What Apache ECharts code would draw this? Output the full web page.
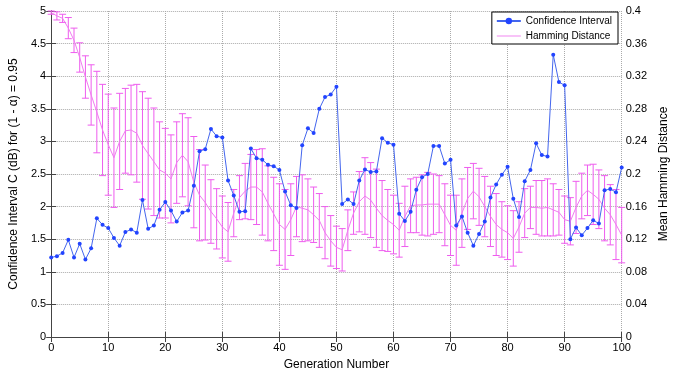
<!DOCTYPE html>
<html><head><meta charset="utf-8">
<script src="https://cdn.jsdelivr.net/npm/echarts@6/dist/echarts.min.js"></script>
<style>html,body{margin:0;padding:0;background:#fff}#c{width:678px;height:376px}</style>
</head><body><div id="c"></div>
<script>
// Confidence interval (left axis), one value per generation 0..100
const confidence = [1.22,1.24,1.29,1.49,1.22,1.43,1.19,1.36,1.82,1.72,
1.67,1.52,1.40,1.61,1.65,1.60,2.10,1.66,1.71,1.95,
2.07,1.94,1.77,1.91,1.94,2.32,2.85,2.88,3.19,3.08,
3.06,2.40,2.17,1.92,1.93,2.89,2.74,2.72,2.64,2.62,
2.56,2.23,2.02,1.98,2.94,3.20,3.13,3.50,3.68,3.72,
3.84,2.04,2.11,2.04,2.40,2.57,2.53,2.54,3.05,2.98,
2.95,1.89,1.78,1.92,2.26,2.45,2.50,2.93,2.93,2.66,
2.72,1.71,1.85,1.60,1.40,1.58,1.77,2.14,2.34,2.49,
2.61,2.12,1.84,2.39,2.56,2.97,2.79,2.77,4.33,3.91,
3.86,1.50,1.68,1.56,1.67,1.79,1.74,2.25,2.27,2.22,2.60];
// Mean Hamming distance (right axis)
const hamming = [0.398,0.394,0.391,0.379,0.364,0.343,0.319,0.297,0.276,0.254,
0.236,0.220,0.240,0.253,0.254,0.250,0.235,0.225,0.215,0.205,
0.201,0.194,0.214,0.223,0.215,0.190,0.174,0.165,0.154,0.145,
0.135,0.129,0.152,0.171,0.179,0.184,0.184,0.178,0.164,0.151,
0.138,0.132,0.144,0.160,0.158,0.156,0.150,0.143,0.128,0.118,
0.110,0.107,0.131,0.152,0.166,0.173,0.168,0.158,0.149,0.143,
0.138,0.131,0.148,0.161,0.162,0.162,0.163,0.163,0.163,0.150,
0.137,0.131,0.152,0.170,0.179,0.172,0.160,0.148,0.138,0.132,
0.128,0.121,0.135,0.152,0.159,0.159,0.158,0.159,0.156,0.153,
0.144,0.142,0.159,0.173,0.180,0.175,0.169,0.158,0.150,0.138,0.125];
// Error bar half-widths for the Hamming distance
const hammingErr = [0.002,0.005,0.005,0.013,0.015,0.018,0.026,0.037,0.050,0.056,
0.062,0.061,0.059,0.052,0.055,0.060,0.066,0.068,0.066,0.059,
0.055,0.054,0.050,0.051,0.054,0.056,0.056,0.046,0.039,0.037,
0.038,0.036,0.029,0.027,0.034,0.040,0.046,0.053,0.046,0.045,
0.050,0.049,0.044,0.037,0.041,0.038,0.034,0.033,0.032,0.031,
0.026,0.026,0.025,0.026,0.037,0.047,0.046,0.048,0.043,0.038,
0.036,0.033,0.037,0.033,0.034,0.037,0.039,0.037,0.035,0.038,
0.037,0.043,0.042,0.038,0.034,0.035,0.037,0.037,0.038,0.034,
0.033,0.034,0.031,0.030,0.026,0.033,0.034,0.035,0.032,0.028,
0.029,0.029,0.032,0.028,0.031,0.037,0.036,0.040,0.037,0.043,0.034];

const FONT = "'Liberation Sans', Arial, sans-serif";
const AX = '#444';
const confData = confidence.map((v,i)=>[i,v]);
const hamData = hamming.map((v,i)=>[i,v]);
const errData = hamming.map((v,i)=>[i, v-hammingErr[i], v+hammingErr[i]]);

const chart = echarts.init(document.getElementById('c'), null, {renderer:'canvas'});
const baseAxis = {
  axisLine:{show:true, lineStyle:{color:AX, width:1}},
  axisTick:{show:true, inside:true, length:5, lineStyle:{color:AX}},
  axisLabel:{color:'#000', fontFamily:FONT, fontSize:11},
  nameTextStyle:{color:'#000', fontFamily:FONT, fontSize:12}
};
const grid = {type:'dotted', color:'#aaa', width:1};
chart.setOption({
  animation:false,
  backgroundColor:'#fff',
  grid:{left:50, right:56, top:11, bottom:36},
  legend:{
    data:[
      {name:'Confidence Interval'},
      {name:'Hamming Distance', icon:'path://M0,0L26,0L26,1L0,1Z'}
    ],
    orient:'vertical', right:60, top:12,
    backgroundColor:'#fff', borderColor:'#000', borderWidth:1,
    padding:[4,6,3,4], itemGap:5, itemWidth:24, itemHeight:8,
    textStyle:{fontFamily:FONT, fontSize:10, color:'#000'}
  },
  xAxis:[
    Object.assign({}, baseAxis, {type:'value', min:0, max:100, interval:10, position:'bottom',
      name:'Generation Number', nameLocation:'middle', nameGap:22,
      axisLabel:Object.assign({}, baseAxis.axisLabel, {margin:5}),
      splitLine:{show:true, lineStyle:grid}}),
    Object.assign({}, baseAxis, {type:'value', min:0, max:100, interval:10, position:'top',
      axisLabel:{show:false}, splitLine:{show:false}})
  ],
  yAxis:[
    Object.assign({}, baseAxis, {type:'value', min:0, max:5, interval:0.5, position:'left',
      name:'Confidence Interval C (dB) for (1 - α) = 0.95', nameLocation:'middle', nameGap:30, nameRotate:90,
      axisLabel:Object.assign({}, baseAxis.axisLabel, {margin:5}),
      splitLine:{show:true, lineStyle:grid}}),
    Object.assign({}, baseAxis, {type:'value', min:0, max:0.4, interval:0.04, position:'right',
      name:'Mean Hamming Distance', nameLocation:'middle', nameGap:36, nameRotate:90,
      axisLabel:Object.assign({}, baseAxis.axisLabel, {margin:4}),
      splitLine:{show:false}})
  ],
  series:[
    {
      name:'HammingErr', type:'custom', xAxisIndex:0, yAxisIndex:1, z:2,
      data:errData, encode:{x:0, y:[1,2]}, silent:true,
      renderItem:function(params, api){
        const x = api.value(0);
        const lo = api.coord([x, api.value(1)]);
        const hi = api.coord([x, api.value(2)]);
        const w = 3.5;
        const st = {stroke:'#ee5cee', lineWidth:1};
        return {type:'group', children:[
          {type:'line', shape:{x1:hi[0], y1:hi[1], x2:lo[0], y2:lo[1]}, style:st},
          {type:'line', shape:{x1:hi[0]-w, y1:hi[1], x2:hi[0]+w, y2:hi[1]}, style:st},
          {type:'line', shape:{x1:lo[0]-w, y1:lo[1], x2:lo[0]+w, y2:lo[1]}, style:st}
        ]};
      }
    },
    {
      name:'Hamming Distance', type:'line', xAxisIndex:0, yAxisIndex:1, z:3,
      data:hamData, symbol:'none', lineStyle:{color:'#f07cf0', width:1}, itemStyle:{color:'#f07cf0'}
    },
    {
      name:'Confidence Interval', type:'line', xAxisIndex:0, yAxisIndex:0, z:4,
      data:confData, symbol:'circle', symbolSize:4, showSymbol:true,
      lineStyle:{color:'#4466ee', width:1}, itemStyle:{color:'#2244ff'}
    }
  ]
});
</script></body></html>
